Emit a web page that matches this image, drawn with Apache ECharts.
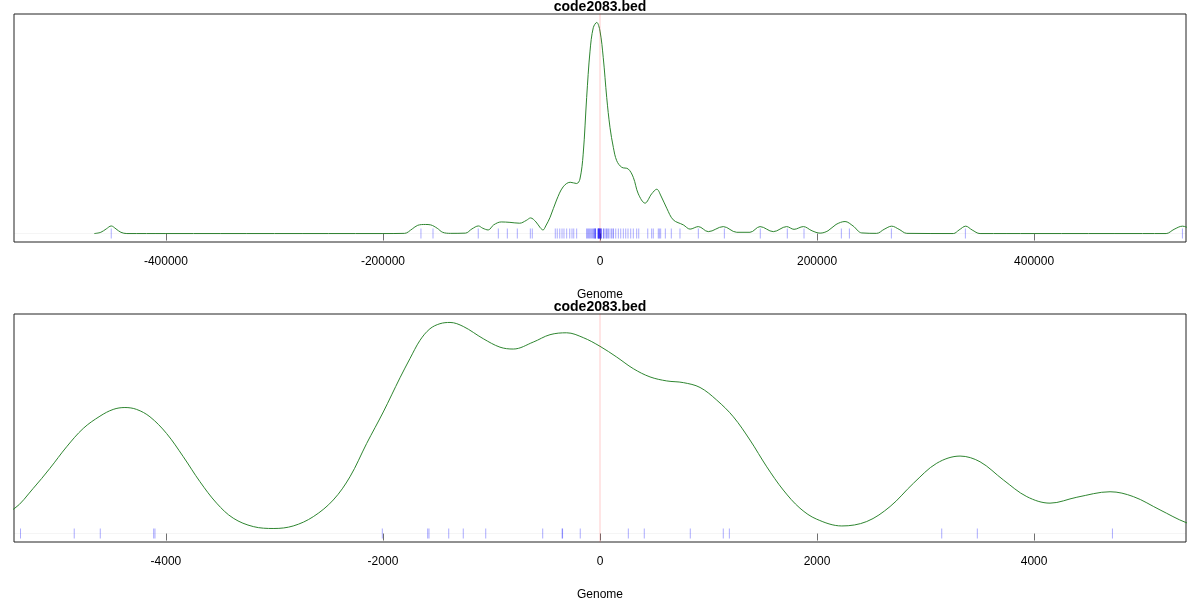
<!DOCTYPE html>
<html>
<head>
<meta charset="utf-8">
<script src="https://cdn.jsdelivr.net/npm/echarts@6/dist/echarts.min.js"></script>
<style>
html,body{margin:0;padding:0;background:#fff;}
#chart{width:1200px;height:600px;}
</style>
</head>
<body>
<div id="chart"></div>
<script>
// ---------- data ----------
const chartTitle = "code2083.bed";
const axisTitle = "Genome";

const topTicks = [-400000, -200000, 0, 200000, 400000];
const bottomTicks = [-4000, -2000, 0, 2000, 4000];

// density (relative, peak = 1) over the wide window
const topDensityX = [
  -466000,-460000,-455000,-450400,-446000,-441500,-436000,-400000,-300000,-200000,
  -180000,-173000,-168000,-161000,-156000,-150000,-145000,-138000,-124000,-118000,
  -112000,-108000,-103000,-98000,-91000,-83000,-74000,-68000,-64000,-59000,
  -55000,-52500,-50000,-46000,-40000,-34000,-27500,-21500,-18500,-15500,
  -12300,-9200,-6200,-3000,0,3000,6200,9200,12300,15400,
  20000,26000,30700,35300,41500,47600,52300,56200,61500,67500,
  76800,83000,90600,99800,113600,126000,138200,147500,159700,172000,
  178800,187400,195400,202800,210100,217500,225800,233200,241200,255000,
  261800,268800,275600,282700,325600,330900,337000,342900,350200,400000,
  500000,521700,529000,536700,543800,551200
];
const topDensityY = [
  0,0.006,0.022,0.036,0.022,0.006,0,0,0,0,
  0.001,0.022,0.039,0.043,0.041,0.025,0.006,0.001,0.002,0.022,
  0.036,0.025,0.017,0.041,0.055,0.053,0.049,0.062,0.074,0.055,
  0.027,0.017,0.036,0.077,0.159,0.221,0.243,0.237,0.258,0.376,
  0.644,0.864,0.975,1.0,0.959,0.833,0.644,0.503,0.408,0.345,
  0.314,0.306,0.266,0.188,0.144,0.188,0.210,0.178,0.120,0.065,
  0.041,0.021,0.033,0.009,0.033,0.006,0.006,0.033,0.009,0.033,
  0.020,0.033,0.013,0.002,0.013,0.043,0.057,0.036,0.003,0.001,
  0.020,0.035,0.020,0.001,0,0.017,0.035,0.017,0,0,
  0,0,0.020,0.035,0.022,0.001
];

// density (relative, peak = 1) over the narrow window
const bottomDensityX = [
  -5600,-5400,-5223,-5069,-4915,-4762,-4608,-4486,-4378,-4270,
  -4147,-3994,-3840,-3687,-3533,-3380,-3195,-3005,-2827,-2642,
  -2458,-2304,-2150,-1997,-1843,-1751,-1659,-1567,-1475,-1382,
  -1260,-1076,-922,-799,-615,-461,-307,-154,0,154,
  307,461,615,768,922,1076,1229,1382,1537,1689,
  1843,1997,2228,2458,2673,2888,3103,3318,3502,3717,
  3933,4147,4394,4700,4915,5161,5400,5600
];
const bottomDensityY = [
  0.080,0.117,0.214,0.309,0.411,0.498,0.556,0.588,0.597,0.588,
  0.553,0.474,0.364,0.246,0.144,0.073,0.033,0.024,0.036,0.080,
  0.159,0.269,0.427,0.576,0.738,0.829,0.915,0.970,0.994,1.0,
  0.981,0.923,0.883,0.874,0.907,0.942,0.951,0.928,0.887,0.836,
  0.781,0.742,0.723,0.715,0.692,0.632,0.553,0.443,0.316,0.206,
  0.120,0.068,0.036,0.057,0.128,0.238,0.333,0.367,0.340,0.254,
  0.175,0.144,0.172,0.198,0.175,0.112,0.052,0.025
];

// feature positions (rug): close to the centre (seen in both panels)
const rugInner = [
  -5340,-4845,-4605,-4113,-4101,-2006,-1588,-1576,-1394,-1260,
  -1053,-528,-349,-345,-182,261,408,832,1136,1192,
  3149,3477,4722
];
// feature positions farther away (wide panel only)
const rugOuter = [
  -450400,-165000,-153900,-112200,-93700,-85400,-76200,-64200,-62400,-41200,
  -39400,-37100,-35000,-33200,-30700,-27900,-25800,-24200,-21500,-12400,
  -11500,-10600,-9700,-8800,-7800,-6900,-6000,6000,6700,7800,
  9200,10600,12000,12300,14500,16900,19100,21500,23700,25800,
  28300,30700,33800,35700,44000,47600,49100,53700,54700,55900,
  60200,65700,73700,90600,114600,147700,172600,188000,222400,229800,
  268500,336700,536700
];

// ---------- chart ----------
const green = '#2e8530';
const rugColor = 'rgba(0,0,255,0.33)';
const font = 'Liberation Sans, Arial, Helvetica, sans-serif';

function pairs(xs, ys){ return xs.map((x,i)=>[x, ys[i]]); }

function xAxisFor(idx, lim, ticks){
  return {
    type:'value', gridIndex: idx, min: -lim, max: lim,
    axisLine:{show:false},
    splitLine:{show:false},
    axisTick:{show:true, length:7, inside:false, customValues: ticks, lineStyle:{color:'#707070', width:1}},
    axisLabel:{show:true, customValues: ticks, margin:14, fontFamily:font, fontSize:12, color:'#000',
      formatter: v => String(v)}
  };
}
function yAxisFor(idx){
  return {type:'value', gridIndex: idx, min:-0.04, max:1.04, show:false};
}
function refLines(){
  return {
    silent:true, symbol:'none', label:{show:false}, animation:false,
    emphasis:{disabled:true},
    data:[
      {xAxis:0, lineStyle:{color:'rgba(255,0,0,0.1)', width:2, type:'solid'}},
      {yAxis:0, lineStyle:{color:'rgba(0,0,0,0.04)', width:1, type:'solid'}}
    ]
  };
}
function rugSeries(idx, values){
  return {type:'scatter', xAxisIndex:idx, yAxisIndex:idx, data: values.map(v=>[v,0]),
    symbol:'rect', symbolSize:[1,10], itemStyle:{color:rugColor, opacity:1},
    emphasis:{disabled:true}, silent:true, z:2, large:false};
}

const chart = echarts.init(document.getElementById('chart'), null, {renderer:'canvas'});
chart.setOption({
  animation:false,
  backgroundColor:'#fff',
  tooltip:{show:false},
  grid:[
    {left:14, right:14, top:14, height:228, show:true, borderColor:'#222', borderWidth:1, backgroundColor:'transparent'},
    {left:14, right:14, top:314, height:228, show:true, borderColor:'#222', borderWidth:1, backgroundColor:'transparent'}
  ],
  xAxis:[ xAxisFor(0, 540000, topTicks), xAxisFor(1, 5400, bottomTicks) ],
  yAxis:[ yAxisFor(0), yAxisFor(1) ],
  series:[
    {type:'line', xAxisIndex:0, yAxisIndex:0, data: pairs(topDensityX, topDensityY),
     showSymbol:false, smooth:0.35, clip:true, emphasis:{disabled:true},
     lineStyle:{color:green, width:1}, markLine: refLines(), z:3},
    rugSeries(0, rugOuter.concat(rugInner)),
    {type:'line', xAxisIndex:1, yAxisIndex:1, data: pairs(bottomDensityX, bottomDensityY),
     showSymbol:false, smooth:0.35, clip:true, emphasis:{disabled:true},
     lineStyle:{color:green, width:1}, markLine: refLines(), z:3},
    rugSeries(1, rugInner)
  ],
  graphic:[
    {type:'text', x:600, y:7.5, style:{text:chartTitle, font:'bold 14px '+font, fill:'#000', align:'center', verticalAlign:'middle'}},
    {type:'text', x:600, y:295, style:{text:axisTitle, font:'12px '+font, fill:'#000', align:'center', verticalAlign:'middle'}},
    {type:'text', x:600, y:307.5, style:{text:chartTitle, font:'bold 14px '+font, fill:'#000', align:'center', verticalAlign:'middle'}},
    {type:'text', x:600, y:595, style:{text:axisTitle, font:'12px '+font, fill:'#000', align:'center', verticalAlign:'middle'}}
  ]
});
</script>
</body>
</html>
